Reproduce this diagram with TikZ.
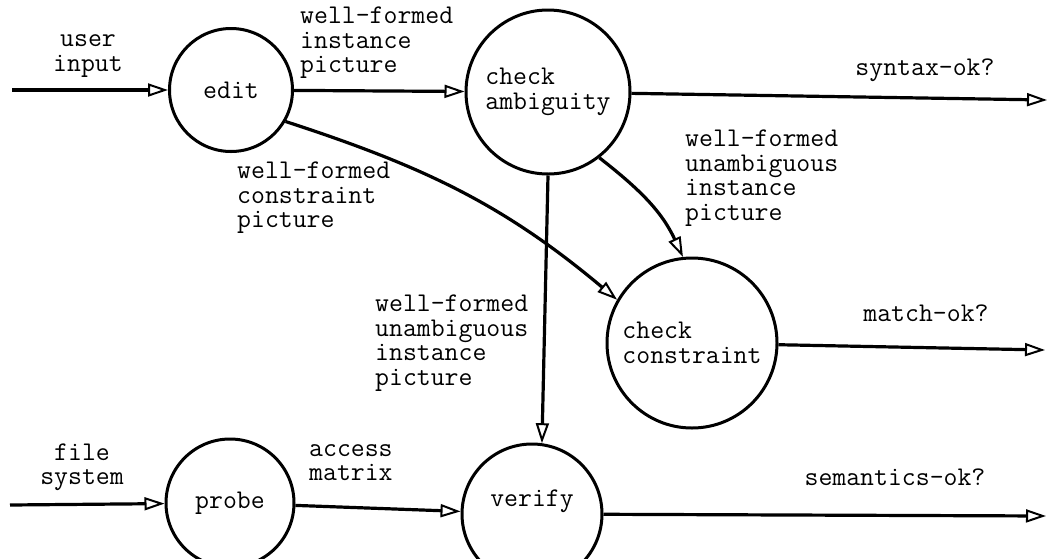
\documentclass[tikz,border=0pt]{standalone}
\usetikzlibrary{arrows.meta}
\tikzset{flowout/.style={-{Triangle[open,length=20pt,width=13pt,line width=2pt]},line width=3.2pt},proc/.style={circle,draw,line width=3pt,inner sep=0pt,align=left},lbl/.style={inner sep=0pt,align=left,anchor=north west},lblc/.style={inner sep=0pt,align=center}}

\begin{document}
\begin{tikzpicture}[x=1pt,y=1pt,font=\ttfamily\fontsize{27}{24.5}\selectfont]
\useasboundingbox (0,0) rectangle (1050,-558);

%processes
\node (edit) at (231,-90)[proc,minimum size=123pt]{edit};
\node (amb) at (548,-92)[proc,minimum size=164pt]{check\\ambiguity};
\node (cons) at (692,-343)[proc,minimum size=170pt]{check\\constraint};
\node (probe) at (230,-503)[proc,minimum size=128pt]{probe};
\node (verify) at (532,-514)[proc,minimum size=140pt,text height=19pt,text depth=35pt]{verify};

%free ends
\coordinate (in1) at (12,-90);
\coordinate (in2) at (10,-505);
\coordinate (out1) at (1047,-100);
\coordinate (out2) at (1045,-350);
\coordinate (out3) at (1046,-516);

%flows
\draw[flowout] (in1) -- (edit);
\draw[flowout] (edit) -- (amb);
\draw[flowout] (amb) -- (out1);
\draw[flowout] (amb.-52) to[out=-38,in=115] (cons.96);
\draw[flowout] (edit.-30) to[out=-18,in=140] (cons.150);
\draw[flowout] (amb.south) -- (verify.82);
\draw[flowout] (cons) -- (out2);
\draw[flowout] (in2) -- (probe);
\draw[flowout] (probe) -- (verify);
\draw[flowout] (verify) -- (out3);

%labels
\node (tin) at (88,-56)[lblc]{user\\input};
\node (tinst) at (300,-7)[lbl]{well-formed\\instance\\picture};
\node (tsyn) at (925,-70)[lblc]{syntax-ok?};
\node (tcons) at (237,-162)[lbl]{well-formed\\constraint\\picture};
\node (tuna1) at (685,-130)[lbl]{well-formed\\unambiguous\\instance\\picture};
\node (tuna2) at (375,-295)[lbl]{well-formed\\unambiguous\\instance\\picture};
\node (tmatch) at (926,-313)[lblc]{match-ok?};
\node (tsem) at (895,-477)[lblc]{semantics-ok?};
\node (tfile) at (82,-467)[lblc]{file\\system};
\node (tacc) at (309,-444)[lbl]{access\\matrix};

\end{tikzpicture}
\end{document}
